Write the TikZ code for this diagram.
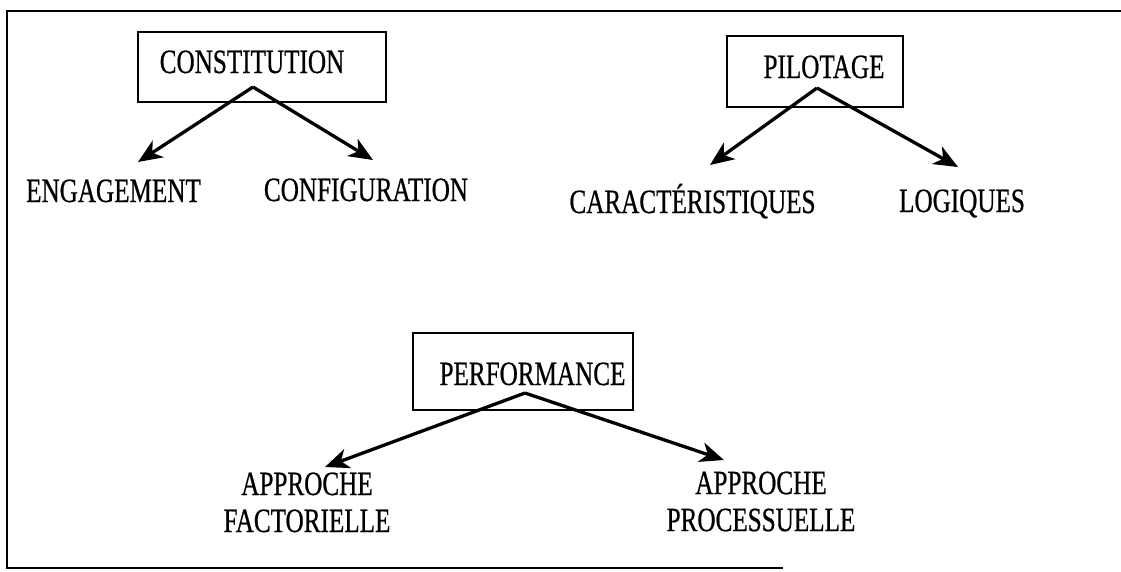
\documentclass[tikz,border=0pt]{standalone}
\usepackage{fontspec}
\setmainfont{Liberation Serif}[FakeStretch=0.74, FakeBold=0.6]
\usetikzlibrary{arrows.meta}
\begin{document}
\begin{tikzpicture}[x=1pt,y=-1pt,
  frame/.style={line width=2.6pt, line cap=rect},
  box/.style={draw, line width=2.4pt, inner sep=0pt},
  lbl/.style={font=\fontsize{34}{37}\selectfont, inner sep=0pt, anchor=base},
  duo/.style={font=\fontsize{34}{37}\selectfont, inner sep=0pt, align=center},
  arr/.style={line width=3.3pt, -{Stealth[length=24pt,width=20pt,inset=7pt]}}
]
\useasboundingbox (0,0) rectangle (1121,571);

% open frame
\coordinate (ftr) at (1121,11);
\coordinate (ftl) at (7,11);
\coordinate (fbl) at (7,568);
\coordinate (fbr) at (782,568);
\draw[frame] (ftr) -- (ftl) -- (fbl) -- (fbr);

% CONSTITUTION
\node[box, minimum width=248pt, minimum height=70pt] (cbox) at (262,67) {};
\node[lbl] (ctxt) at (252,73) {CONSTITUTION};
\coordinate (capex) at (253,87);
\node[lbl] (eng) at (113.5,202) {ENGAGEMENT};
\node[lbl] (conf) at (366,201) {CONFIGURATION};
\coordinate (engtip) at (138,162);
\coordinate (conftip) at (373,160);
\draw[arr] (capex) -- (engtip);
\draw[arr] (capex) -- (conftip);

% PILOTAGE
\node[box, minimum width=176pt, minimum height=71pt] (pbox) at (815,71.5) {};
\node[lbl] (ptxt) at (824,78) {PILOTAGE};
\coordinate (papex) at (817,88);
\node[lbl] (cara) at (692.5,213) {CARACTÉRISTIQUES};
\node[lbl] (logi) at (962,212) {LOGIQUES};
\coordinate (caratip) at (710,165);
\coordinate (logitip) at (958,167);
\draw[arr] (papex) -- (caratip);
\draw[arr] (papex) -- (logitip);

% PERFORMANCE
\node[box, minimum width=220pt, minimum height=77pt] (fbox) at (523,371.5) {};
\node[lbl] (ftxt) at (532.5,385) {PERFORMANCE};
\coordinate (fapex) at (525,393);
\node[duo] (fact) at (307,502.4) {APPROCHE\\FACTORIELLE};
\node[duo] (proc) at (761,501.5) {APPROCHE\\PROCESSUELLE};
\coordinate (facttip) at (325,467);
\coordinate (proctip) at (724,460);
\draw[arr] (fapex) -- (facttip);
\draw[arr] (fapex) -- (proctip);
\end{tikzpicture}
\end{document}
